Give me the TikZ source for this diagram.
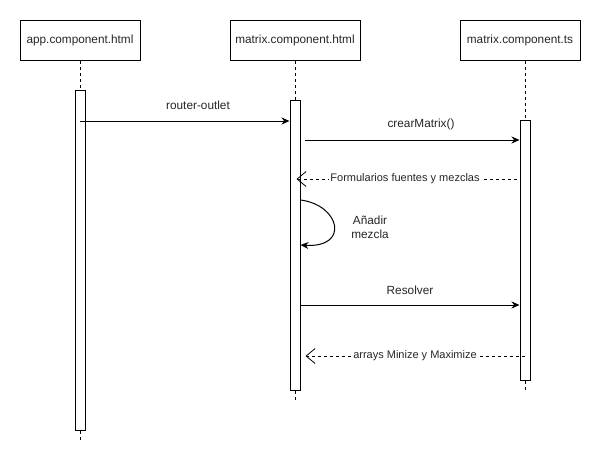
\documentclass[tikz,border=0pt]{standalone}
\usepackage{fontspec}
\setmainfont{Liberation Sans}
\usetikzlibrary{arrows.meta,calc,positioning}

\begin{document}
\begin{tikzpicture}[x=1pt, y=-1pt,
    head/.style={draw, line width=1pt, minimum width=120, minimum height=40, inner sep=0, font=\fontsize{11.8}{14}\selectfont, text=black!85},
    bar/.style={draw, line width=1pt, fill=white, minimum width=10, inner sep=0},
    life/.style={line width=1pt, dash pattern=on 3pt off 3pt},
    call/.style={line width=1pt, -{Stealth[length=8pt, width=7pt]}},
    reply/.style={line width=0.8pt, dash pattern=on 3pt off 3pt, -{Straight Barb[length=9pt, width=15pt]}},
    msg/.style={font=\fontsize{11.8}{14}\selectfont, text=black!85},
    rmsg/.style={font=\fontsize{11}{13}\selectfont, text=black!85, fill=white, inner sep=1pt}]
                                \useasboundingbox (0,0) rectangle (611,461);
                                \node[head] (app) at (80,40) {app.component.html};
                                \node[head, minimum width=130] (mhtml) at (295,40) {matrix.component.html};
                                \node[head] (mts) at (520,40) {matrix.component.ts};
                                \coordinate (end1) at (80,440);
                                \coordinate (end2) at (295,400);
                                \coordinate (end3) at (525,390);
                                \node[bar, minimum height=340] (bar1) at (80,260) {};
                                \node[bar, minimum height=290] (bar2) at (295,245) {};
                                \node[bar, minimum height=260] (bar3) at (525,250) {};
                                \draw[life] (app.south) -- (bar1.north);
                                \draw[life] (bar1.south) -- (end1);
                                \draw[life] (mhtml.south) -- (bar2.north);
                                \draw[life] (bar2.south) -- (end2);
                                \draw[life] (bar3.north |- mts.south) -- (bar3.north);
                                \draw[life] (bar3.south) -- (end3);
                                \coordinate (y1) at (0,121);
                                \coordinate (y2) at (0,140);
                                \coordinate (y3) at (0,179);
                                \coordinate (y4a) at (0,200);
                                \coordinate (y4b) at (0,245);
                                \coordinate (y5) at (0,305);
                                \coordinate (y6) at (0,356);
                                \draw[call] (bar1.center |- y1) -- (bar2.west |- y1);
                                \node[msg] (lrouter) at (198,105) {router-outlet};
                                \draw[call] ($(bar2.east |- y2)+(4,0)$) -- (bar3.west |- y2);
                                \node[msg] (lcrear) at (421,124) {crearMatrix()};
                                \draw[reply] ($(bar3.west |- y3)+(-3,0)$) -- ($(bar2.east |- y3)+(-4,0)$);
                                \node[rmsg] (lform) at (405,179) {Formularios fuentes y mezclas};
                                \draw[call] (bar2.east |- y4a) .. controls (340,205) and (350,248) .. (bar2.east |- y4b);
                                \node[msg, align=center] (lmix) at (370,227) {Añadir\\mezcla};
                                \draw[call] (bar2.east |- y5) -- (bar3.west |- y5);
                                \node[msg] (lres) at (410,290) {Resolver};
                                \draw[reply] (bar3.center |- y6) -- ($(bar2.east |- y6)+(5,0)$);
                                \node[rmsg] (larr) at (415,356) {arrays Minize y Maximize};
                            \end{tikzpicture}
\end{document}
